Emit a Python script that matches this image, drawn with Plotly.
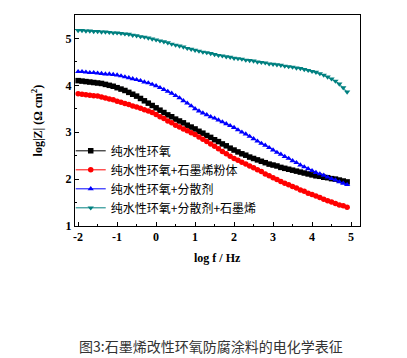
import plotly.graph_objects as go

log_f = [-2.0, -1.9, -1.8, -1.7, -1.6, -1.5, -1.4, -1.3, -1.2, -1.1,
         -1.0, -0.9, -0.8, -0.7, -0.6, -0.5, -0.4, -0.3, -0.2, -0.1,
         0.0, 0.1, 0.2, 0.3, 0.4, 0.5, 0.6, 0.7, 0.8, 0.9,
         1.0, 1.1, 1.2, 1.3, 1.4, 1.5, 1.6, 1.7, 1.8, 1.9,
         2.0, 2.1, 2.2, 2.3, 2.4, 2.5, 2.6, 2.7, 2.8, 2.9,
         3.0, 3.1, 3.2, 3.3, 3.4, 3.5, 3.6, 3.7, 3.8, 3.9,
         4.0, 4.1, 4.2, 4.3, 4.4, 4.5, 4.6, 4.7, 4.8, 4.9]

epoxy = [4.10, 4.09, 4.08, 4.07, 4.06, 4.05, 4.04, 4.02, 4.00, 3.98,
         3.95, 3.92, 3.89, 3.85, 3.81, 3.77, 3.72, 3.67, 3.62, 3.57,
         3.52, 3.47, 3.42, 3.37, 3.33, 3.28, 3.24, 3.20, 3.15, 3.11,
         3.07, 3.02, 2.98, 2.93, 2.89, 2.84, 2.80, 2.75, 2.71, 2.66,
         2.62, 2.58, 2.54, 2.51, 2.47, 2.44, 2.41, 2.38, 2.35, 2.32,
         2.30, 2.28, 2.25, 2.23, 2.21, 2.19, 2.17, 2.15, 2.13, 2.11,
         2.09, 2.07, 2.06, 2.04, 2.03, 2.01, 2.00, 1.98, 1.96, 1.94]

epoxy_graphene_powder = [3.82, 3.81, 3.80, 3.79, 3.78, 3.77, 3.75, 3.73, 3.71, 3.69,
                         3.66, 3.64, 3.61, 3.59, 3.56, 3.54, 3.51, 3.48, 3.45, 3.42,
                         3.38, 3.33, 3.29, 3.24, 3.20, 3.15, 3.11, 3.07, 3.03, 2.99,
                         2.95, 2.90, 2.85, 2.80, 2.75, 2.70, 2.65, 2.59, 2.54, 2.49,
                         2.44, 2.40, 2.36, 2.32, 2.28, 2.24, 2.20, 2.16, 2.11, 2.07,
                         2.03, 1.99, 1.95, 1.91, 1.88, 1.84, 1.81, 1.77, 1.74, 1.70,
                         1.67, 1.64, 1.61, 1.57, 1.54, 1.51, 1.48, 1.45, 1.43, 1.40]

epoxy_dispersant = [4.29, 4.29, 4.28, 4.27, 4.27, 4.26, 4.25, 4.24, 4.24, 4.23,
                    4.22, 4.20, 4.18, 4.16, 4.14, 4.12, 4.10, 4.07, 4.05, 4.02,
                    3.99, 3.95, 3.91, 3.87, 3.83, 3.78, 3.73, 3.67, 3.62, 3.56,
                    3.50, 3.45, 3.41, 3.37, 3.33, 3.30, 3.26, 3.22, 3.18, 3.14,
                    3.10, 3.05, 3.00, 2.96, 2.91, 2.86, 2.81, 2.76, 2.72, 2.67,
                    2.62, 2.57, 2.53, 2.48, 2.44, 2.39, 2.35, 2.30, 2.26, 2.22,
                    2.18, 2.14, 2.11, 2.08, 2.04, 2.01, 1.98, 1.94, 1.91, 1.88]

epoxy_dispersant_graphene = [5.17, 5.17, 5.16, 5.16, 5.15, 5.15, 5.14, 5.14, 5.13, 5.12,
                             5.12, 5.11, 5.10, 5.09, 5.07, 5.06, 5.04, 5.03, 5.01, 4.99,
                             4.97, 4.95, 4.93, 4.91, 4.88, 4.86, 4.84, 4.82, 4.79, 4.77,
                             4.75, 4.73, 4.71, 4.70, 4.68, 4.66, 4.64, 4.63, 4.61, 4.60,
                             4.58, 4.57, 4.56, 4.54, 4.53, 4.52, 4.50, 4.49, 4.48, 4.46,
                             4.45, 4.44, 4.43, 4.41, 4.40, 4.39, 4.37, 4.36, 4.34, 4.32,
                             4.30, 4.28, 4.25, 4.22, 4.18, 4.14, 4.09, 4.03, 3.95, 3.86]

names = ["纯水性环氧", "纯水性环氧+石墨烯粉体", "纯水性环氧+分散剂", "纯水性环氧+分散剂+石墨烯"]
series = [epoxy, epoxy_graphene_powder, epoxy_dispersant, epoxy_dispersant_graphene]
colors = ["#000000", "#ff0000", "#0000ff", "#008080"]
symbols = ["square", "circle", "triangle-up", "triangle-down"]

fig = go.Figure()
for name, ys, c, s in zip(names, series, colors, symbols):
    fig.add_trace(go.Scatter(
        x=log_f, y=ys, name=name, mode="lines+markers",
        line=dict(color=c, width=1),
        marker=dict(symbol=s, size=5.5, color=c, line=dict(width=0)),
    ))

serif = "Liberation Serif"
fig.update_layout(
    width=407, height=358,
    margin=dict(l=75, r=47, t=15, b=132, autoexpand=False),
    paper_bgcolor="white", plot_bgcolor="white",
    showlegend=True,
    legend=dict(x=-0.015, y=0.425, xanchor="left", yanchor="top",
                bgcolor="rgba(0,0,0,0)",
                font=dict(family="Noto Sans CJK SC", size=12, color="#000"),
                tracegroupgap=0, itemwidth=30),
    font=dict(family=serif, color="#000"),
)
fig.update_xaxes(
    range=[-2.08, 5.23], tickmode="array", tickvals=[-2, -1, 0, 1, 2, 3, 4, 5],
    ticktext=["<b>-2</b>", "<b>-1</b>", "<b>0</b>", "<b>1</b>", "<b>2</b>", "<b>3</b>", "<b>4</b>", "<b>5</b>"],
    ticks="inside", ticklen=4, tickcolor="#000", tickwidth=1,
    minor=dict(tickvals=[-1.5, -0.5, 0.5, 1.5, 2.5, 3.5, 4.5], ticks="inside", ticklen=2, tickcolor="#000"),
    showline=True, linecolor="#000", linewidth=1, mirror=True,
    showgrid=False, zeroline=False, automargin=False,
    tickfont=dict(family=serif, size=12, color="#000"),
)
fig.update_yaxes(
    range=[1, 5.5], tickmode="array", tickvals=[1, 2, 3, 4, 5],
    ticktext=["<b>1</b>", "<b>2</b>", "<b>3</b>", "<b>4</b>", "<b>5</b>"],
    ticks="inside", ticklen=4, tickcolor="#000", tickwidth=1,
    minor=dict(tickvals=[1.5, 2.5, 3.5, 4.5], ticks="inside", ticklen=2, tickcolor="#000"),
    showline=True, linecolor="#000", linewidth=1, mirror=True,
    showgrid=False, zeroline=False, automargin=False,
    tickfont=dict(family=serif, size=12, color="#000"),
)
fig.add_annotation(
    text="<b>log f / Hz</b>", xref="paper", yref="paper", x=0.5, y=-0.154,
    xanchor="center", yanchor="middle", showarrow=False,
    font=dict(family=serif, size=12, color="#000"),
)
fig.add_annotation(
    text="<b>log|Z| (Ω cm<sup>2</sup>)</b>", xref="paper", yref="paper", x=-0.13, y=0.5,
    xanchor="center", yanchor="middle", showarrow=False, textangle=-90,
    font=dict(family=serif, size=12, color="#000"),
)
fig.add_annotation(
    text="图3:石墨烯改性环氧防腐涂料的电化学表征",
    xref="paper", yref="paper", x=0.477, y=-0.57, xanchor="center", yanchor="middle",
    showarrow=False, font=dict(family="Noto Sans CJK SC", size=14, color="#333333"),
)
fig.write_html("out.html", config={"displayModeBar": False},
               post_script="document.body.style.margin='0';document.body.style.overflow='hidden';")
